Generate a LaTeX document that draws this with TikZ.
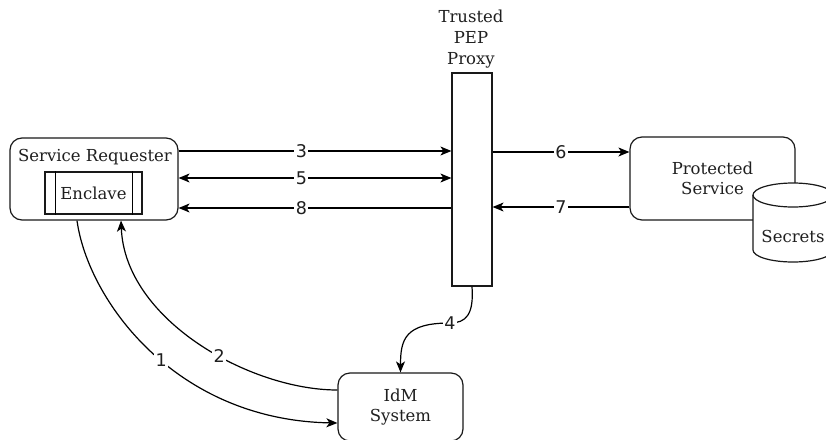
\documentclass[tikz,border=0pt]{standalone}
\usepackage{fontspec}
\setmainfont{DejaVu Serif}
\newfontfamily\numfont{DejaVu Sans}
\usetikzlibrary{arrows.meta,calc}

\begin{document}
\begin{tikzpicture}[x=1pt,y=-1pt,
  line width=1.2pt,
  >={Stealth[length=11pt,width=9pt,inset=3pt]},
  every node/.style={text=black!88, font=\fontsize{16.5}{20}\selectfont},
  box/.style={draw=black!90, rounded corners=12pt, align=center},
  plain/.style={draw=black!90, inner sep=0pt},
  num/.style={fill=white, inner sep=1.5pt, font=\numfont\fontsize{17.5}{17.5}\selectfont}
]
\fill[white] (0,0) rectangle (826,439);
\useasboundingbox (0,0) rectangle (826,439);

% service requester with its enclave
\node[box, minimum width=168pt, minimum height=82pt] (sr) at (94,179) {};
\node (srlabel) at (95,157) {Service Requester};
\node[plain, minimum width=97pt, minimum height=42pt] (enc) at (93.5,193) {Enclave};
\draw ([xshift=11pt]enc.north west) -- ([xshift=11pt]enc.south west);
\draw ([xshift=-10pt]enc.north east) -- ([xshift=-10pt]enc.south east);

% trusted PEP proxy
\node[plain, minimum width=40pt, minimum height=213pt] (pep) at (472,179.5) {};
\node[align=center, font=\fontsize{16.5}{21}\selectfont] (peplabel) at (471,39) {Trusted\\PEP\\Proxy};

% protected service and its secrets store
\node[box, minimum width=165pt, minimum height=83pt] (ps) at (712.5,178.5) {Protected\\Service};
\filldraw[fill=white, draw=black!90]
  (753,195) -- (753,250) arc[start angle=180, end angle=360, x radius=40pt, y radius=12pt]
  -- (833,195) arc[start angle=0, end angle=180, x radius=40pt, y radius=12pt] -- cycle;
\draw[black!90] (753,195) arc[start angle=180, end angle=360, x radius=40pt, y radius=12pt];
\node (secrets) at (793,236) {Secrets};

% identity management
\node[box, minimum width=125pt, minimum height=68pt] (idm) at (400.5,407) {IdM\\System};

% message flows
\draw[->] (sr.east |- 0,151) -- node[num, pos=0.45] {3} (pep.west |- 0,151);
\draw[<->] (sr.east |- 0,178) -- node[num, pos=0.45] {5} (pep.west |- 0,178);
\draw[->] (pep.west |- 0,208) -- node[num, pos=0.55] {8} (sr.east |- 0,208);
\draw[->] (pep.east |- 0,152) -- node[num] {6} (ps.west |- 0,152);
\draw[->] (ps.west |- 0,207) -- node[num] {7} (pep.east |- 0,207);

\draw[->] ([xshift=-17pt]sr.south) .. controls (88,300) and (175,420) ..
  node[num, pos=0.54] {1} ([yshift=-16pt]idm.west);
\draw[->] ([yshift=17pt]idm.west) .. controls (250,390) and (125,320) ..
  node[num, pos=0.42] {2} ([xshift=27pt]sr.south);

\coordinate (k4) at (450,323);
\draw[->] (pep.south) .. controls +(2,28) and +(16,0) .. (k4)
  .. controls +(-45,0) and +(0,-33) .. (idm.north);
\node[num] (n4) at (k4) {4};
\end{tikzpicture}
\end{document}
